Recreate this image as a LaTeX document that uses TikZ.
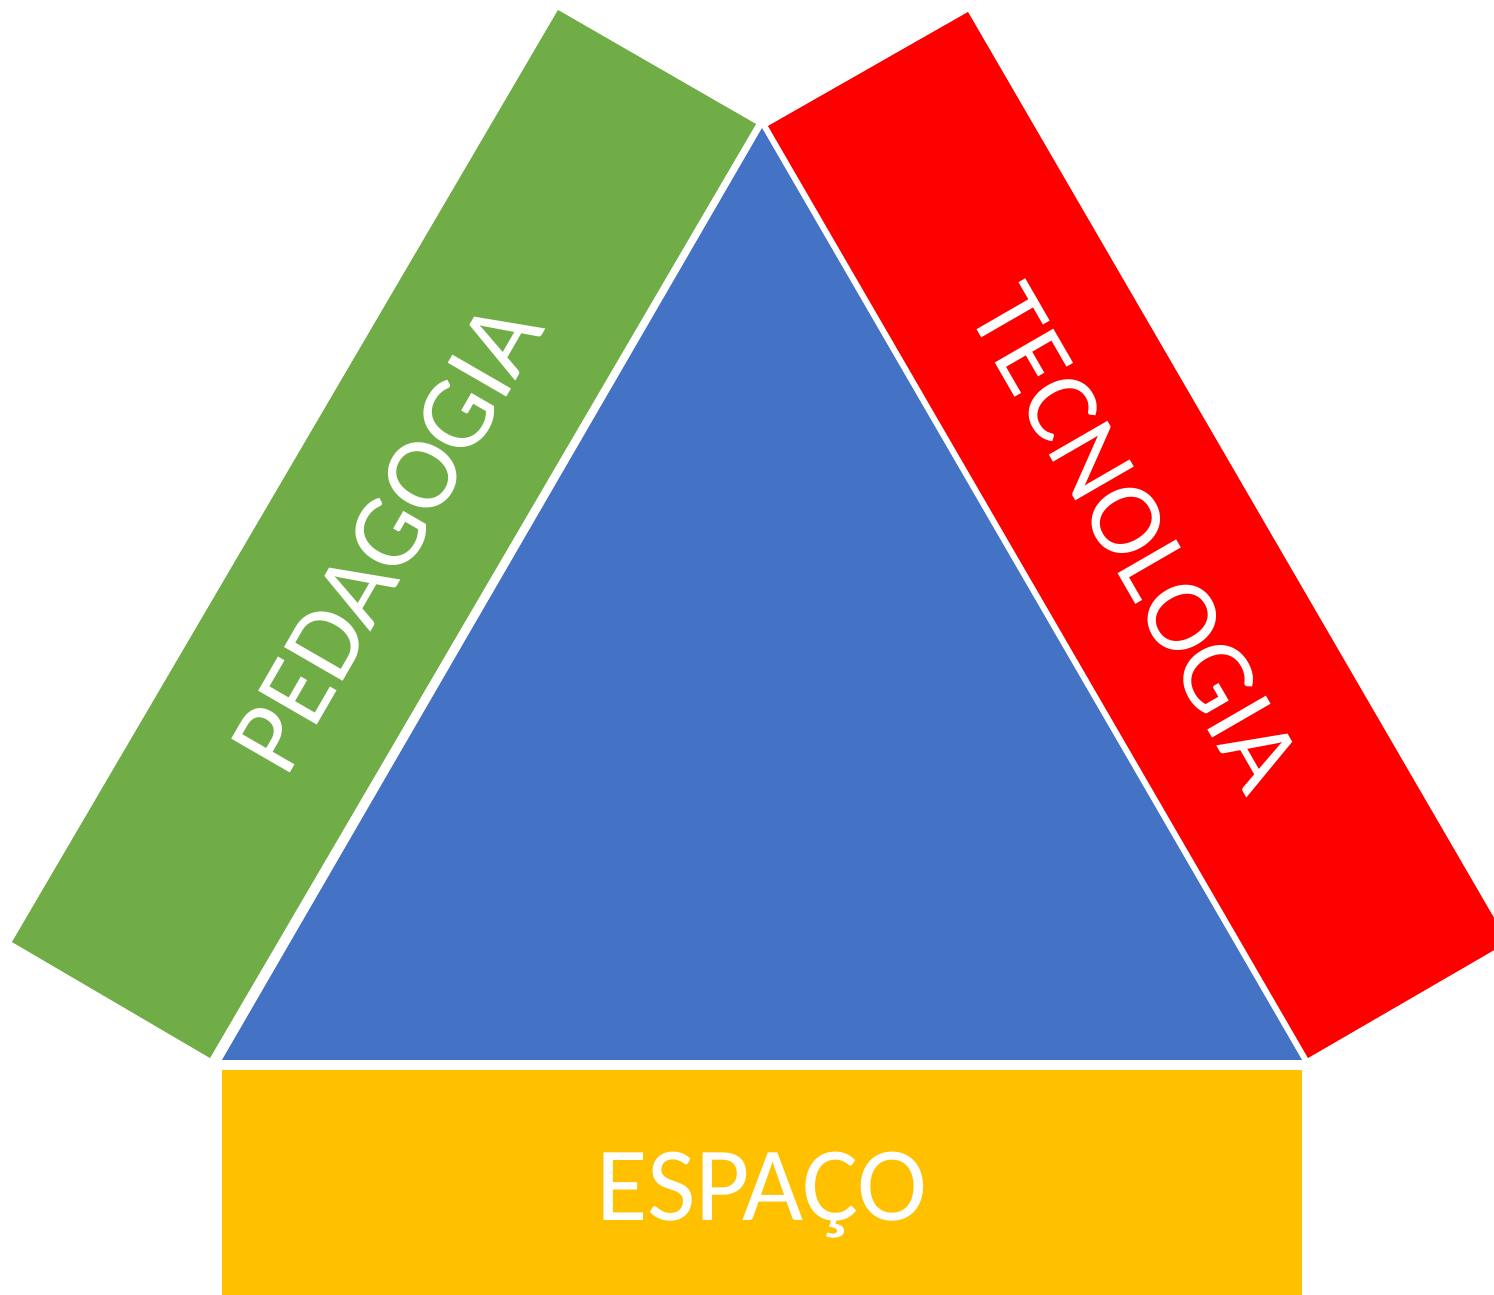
\documentclass[tikz,border=0pt]{standalone}
\usepackage{fontspec}
\setmainfont{Carlito}
\usepackage{tikz}
\definecolor{pedgreen}{HTML}{70AD47}
\definecolor{tecred}{HTML}{FF0000}
\definecolor{triblue}{HTML}{4472C4}
\definecolor{espyellow}{HTML}{FFC000}
\tikzstyle{label}=[text=white,font=\fontsize{30}{35}\selectfont,inner sep=0pt]

\begin{document}
\begin{tikzpicture}
  \useasboundingbox (0,0) rectangle (14.94,12.95);
  \clip (0,0) rectangle (14.94,12.95);
  % corners of the triangle
  \coordinate (apex) at (7.62,11.67);
  \coordinate (bl)   at (2.22,2.35);
  \coordinate (br)   at (13.02,2.35);
  % side bands
  \fill[pedgreen] (5.58,12.85) -- (7.56,11.71) -- (2.10,2.37) -- (0.12,3.53) -- cycle;
  \fill[tecred]   (9.68,12.83) -- (7.68,11.69) -- (13.08,2.37) -- (15.08,3.53) -- cycle;
  \fill[espyellow] (2.22,0) rectangle (13.02,2.25);
  % triangle
  \fill[triblue] (apex) -- (bl) -- (br) -- cycle;
  % labels
  \node[label,rotate=60]  (ped) at (3.87,7.58)  {PEDAGOGIA};
  \node[label,rotate=-60] (tec) at (11.36,7.57) {TECNOLOGIA};
  \node[label]            (esp) at (7.62,1.00)  {ESPAÇO};
\end{tikzpicture}
\end{document}
